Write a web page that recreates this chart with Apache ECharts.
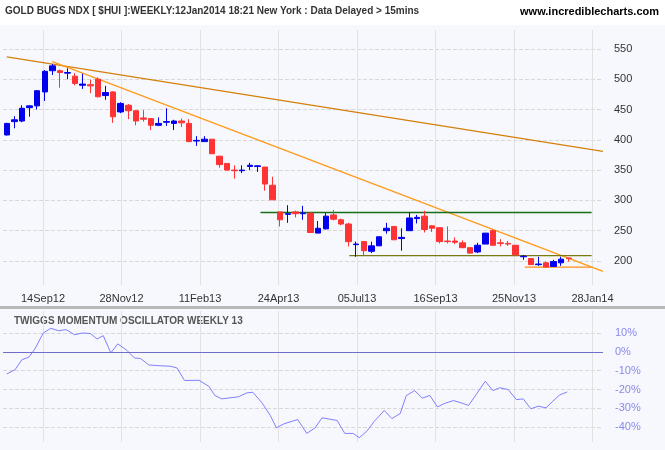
<!DOCTYPE html>
<html><head><meta charset="utf-8">
<script src="https://cdn.jsdelivr.net/npm/echarts@6/dist/echarts.min.js"></script>
<style>html,body{margin:0;padding:0;background:#fff}#c{width:665px;height:450px}</style>
</head><body><div id="c"></div>
<script>
// weekly candles [open, close, low, high]
const candles = [
[408,427,407,428],[430,433,419,439],[431,452,429,457],[453,456,438,457],[456,481,450,482],
[479,513,464,515],[514,522,507,525],[514,511,486,516],[510,511,500,518],[505,493,490,510],
[490,492,484,509],[491,489,477,499],[500,471,470,503],[473,478,466,489],[479,438,428,480],
[446,460,444,462],[457,448,434,459],[448,431,424,448],[436,434,430,449],[435,424,416,435],
[424,427,423,437],[429,430,423,452],[427,431,416,433],[431,428,421,435],[427,397,397,434],
[398,399,390,406],[397,401,397,406],[401,377,377,401],[373,359,354,373],[361,350,350,361],
[350,349,336,358],[349,350,345,358],[356,358,350,362],[356,357,347,358],[355,327,316,355],
[325,301,301,339],[281,268,257,281],[277,278,263,292],[281,278,272,283],[278,279,268,291],
[279,247,247,279],[246,254,246,266],[253,274,252,279],[276,269,267,284],[268,261,259,270],
[261,232,224,263],[227,228,207,232],[232,217,210,233],[216,225,213,232],[225,240,225,240],
[250,254,245,263],[257,235,235,257],[237,239,217,254],[250,271,250,280],[270,272,262,276],
[274,252,247,283],[258,254,248,259],[255,232,229,255],[233,232,229,257],[233,231,228,239],
[230,222,221,234],[222,213,212,222],[215,226,213,230],[228,246,228,246],[250,226,226,252],
[230,229,224,236],[229,228,225,233],[226,210,210,226],[207,208,202,210],[204,194,194,204],
[194,195,192,207],[197,190,190,199],[191,199,190,202],[197,203,192,207],[205,204,199,205]
];
const slots = 79;
const dateTicks = ['14Sep12','28Nov12','11Feb13','24Apr13','05Jul13','16Sep13','25Nov13','28Jan14'];
const priceTicks = [200,250,300,350,400,450,500,550];
const pctTicks = [-40,-30,-20,-10,0,10];
// oscillator [week position, %]
const osc = [[0,-11.7],[1.1,-9.4],[2.0,-4.1],[2.9,-2.8],[3.7,1.6],[4.8,10.1],[5.8,12.6],[6.8,11.3],[7.8,11.9],[8.9,9.2],
[10.0,10.1],[11.0,9.8],[11.9,6.9],[12.7,8.7],[13.7,-0.5],[14.6,4.3],[15.8,0.9],[16.8,-3.2],[17.6,-3.5],[18.7,-6.9],
[19.9,-7.3],[21.5,-7.6],[22.4,-8.5],[23.4,-15.2],[25.3,-15.1],[26.6,-18.3],[27.4,-23.2],[28.3,-25.0],[30.5,-23.9],[31.6,-21.8],
[32.4,-21.5],[33.6,-27.1],[34.7,-33.9],[35.5,-40.4],[36.5,-38.3],[38.3,-36.0],[39.5,-43.4],[40.6,-40.4],[41.5,-35.1],[43.5,-36.5],
[44.5,-43.4],[45.6,-43.4],[46.4,-45.7],[47.4,-42.2],[48.4,-36.9],[49.7,-31.2],[50.7,-35.5],[51.8,-32.8],[52.6,-23.2],[53.7,-20.6],
[54.7,-24.6],[55.7,-23.2],[56.7,-29.3],[57.6,-27.5],[58.8,-25.9],[59.8,-27.1],[60.8,-28.5],[61.8,-22.7],[63.0,-15.6],[64.0,-20.6],
[64.9,-19.1],[66.0,-20.0],[67.1,-25.4],[68.0,-25.0],[69.0,-30.3],[70.0,-28.9],[71.0,-29.8],[71.9,-26.2],[72.8,-22.9],[73.8,-21.3]];
// trend lines [[week, price],[week, price]]
const trend1 = [[0,537],[78.5,381]];
const trend2 = [[6,529],[78.5,183]];
const resist = [[33.4,280],[77,280]];
const support1 = [[45.1,209],[77,209]];
const support2 = [[68.2,190],[77,190]];

const cats = []; for (let i=0;i<slots;i++) cats.push('W'+i);
function lineSeries(pts,color,w){ return {type:'line',xAxisIndex:3,yAxisIndex:0,data:pts,symbol:'none',silent:true,
  lineStyle:{color:color,width:w},z:3}; }

const chart = echarts.init(document.getElementById('c'));
const labelCol = '#333';
chart.setOption({
  animation:false,
  backgroundColor:'#f7f8fd',
  textStyle:{fontFamily:'Liberation Sans, Arial'},
  graphic:[
    {type:'rect',shape:{x:0,y:0,width:665,height:25},style:{fill:'#ffffff'}},
    {type:'rect',shape:{x:0,y:306,width:665,height:3},style:{fill:'#b8b8b8'}},
    {type:'text',left:5,top:6,style:{text:'GOLD BUGS NDX [ $HUI ]:WEEKLY:12Jan2014 18:21 New York : Data Delayed > 15mins',fill:'#333',font:'bold 10px Liberation Sans'}},
    {type:'text',right:6,top:6,style:{text:'www.incrediblecharts.com',fill:'#000',font:'bold 11px Liberation Sans'}},
    {type:'text',left:14,top:316,style:{text:'TWIGGS MOMENTUM OSCILLATOR WEEKLY 13',fill:'#555',font:'bold 10px Liberation Sans'}}
  ],
  grid:[
    {left:3,right:62,top:18.6,bottom:158.7},
    {left:43,right:72.5,top:30,bottom:165},
    {left:3,right:62,top:314.4,bottom:4.2},
    {left:43,right:72.5,top:311,bottom:8}
  ],
  xAxis:[
    {type:'category',gridIndex:0,data:cats,boundaryGap:true,show:false},
    {type:'value',gridIndex:1,min:0,max:7,interval:1,axisLine:{show:false},axisTick:{show:false},
      axisLabel:{color:labelCol,fontSize:11,margin:8,formatter:v=>dateTicks[Math.round(v)]||''},
      splitLine:{show:true,lineStyle:{color:'#e2e2e2',width:1}}},
    {type:'value',gridIndex:3,min:0,max:7,interval:1,axisLine:{show:false},axisTick:{show:false},axisLabel:{show:false},
      splitLine:{show:true,lineStyle:{color:'#e2e2e2',width:1}}},
    {type:'value',gridIndex:0,min:-0.5,max:slots-0.5,show:false},
    {type:'value',gridIndex:2,min:-0.5,max:slots-0.5,show:false}
  ],
  yAxis:[
    {type:'value',gridIndex:0,position:'right',min:150,max:600,interval:50,axisLine:{show:false},axisTick:{show:false},
      axisLabel:{color:labelCol,fontSize:11,margin:11,formatter:v=>priceTicks.includes(v)?String(v):''},
      splitLine:{show:true,showMinLine:false,showMaxLine:false,lineStyle:{color:'#d8d8d8',type:'dashed'}}},
    {type:'value',gridIndex:1,show:false},
    {type:'value',gridIndex:2,position:'right',min:-50,max:20,interval:10,axisLine:{show:false},axisTick:{show:false},
      axisLabel:{color:'#8a8ae8',fontSize:11,margin:12,formatter:v=>pctTicks.includes(v)?v+'%':''},
      splitLine:{show:true,showMinLine:false,showMaxLine:false,lineStyle:{color:'#d8d8d8',type:'dashed'}}},
    {type:'value',gridIndex:3,show:false}
  ],
  series:[
    {type:'candlestick',xAxisIndex:0,yAxisIndex:0,data:candles,barWidth:6,z:4,
      itemStyle:{color:'#0000ee',color0:'#ff3333',borderColor:'#0000ee',borderColor0:'#ff3333',borderWidth:1}},
    lineSeries(trend1,'#d4800a',1.3),
    lineSeries(trend2,'#ff9a1a',1.3),
    lineSeries(resist,'#1a6e1a',1.3),
    lineSeries(support1,'#7a7a10',1.3),
    lineSeries(support2,'#ff8c1a',1.3),
    {type:'line',xAxisIndex:4,yAxisIndex:2,data:osc,symbol:'none',lineStyle:{color:'#8080ff',width:1},
      markLine:{silent:true,symbol:'none',label:{show:false},lineStyle:{color:'#6e6ec8',type:'solid',width:1.2},data:[{yAxis:0}]}}
  ]
});
</script></body></html>
